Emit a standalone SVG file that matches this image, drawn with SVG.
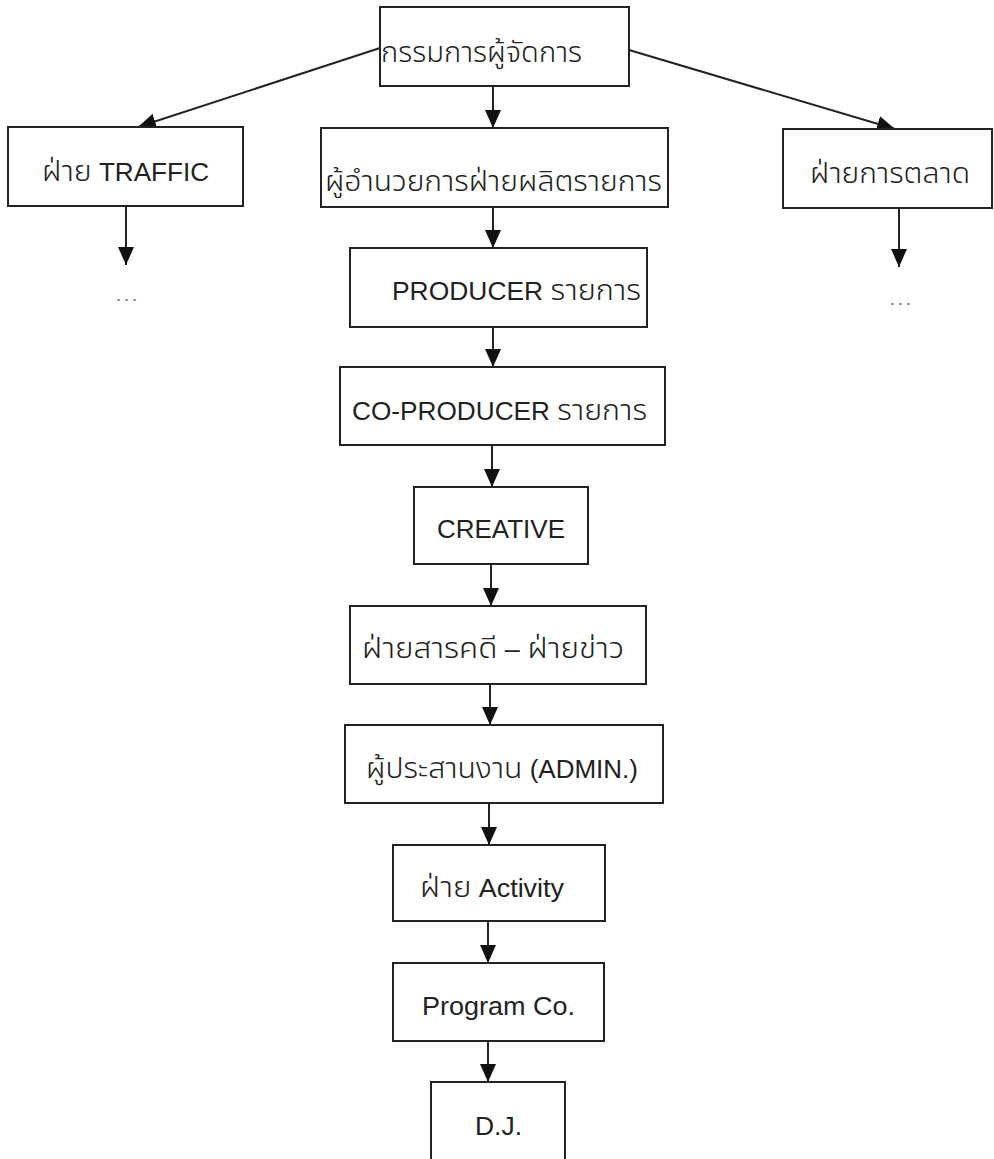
<svg xmlns="http://www.w3.org/2000/svg" width="994" height="1159" viewBox="0 0 994 1159">
<defs>
<marker id="ah" markerUnits="userSpaceOnUse" markerWidth="18" markerHeight="16" refX="18" refY="8" orient="auto">
<path d="M0,0 L18,8 L0,16 z" fill="#111"/>
</marker>
<style>
.box{fill:#fff;stroke:#222;stroke-width:2}
.t{font-family:"Liberation Sans",Arial,sans-serif;font-size:25px;fill:#222}
.th{font-family:"Noto Sans Thai","Noto Sans","DejaVu Sans",sans-serif;font-size:29px;font-weight:300}
.c{stroke:#222;stroke-width:2;fill:none;marker-end:url(#ah)}
.dots{font-family:"Liberation Sans",sans-serif;font-size:18px;fill:#666;letter-spacing:3px}
</style>
</defs>
<rect width="994" height="1159" fill="#fff"/>
<g id="connectors">
<line class="c" x1="493" y1="86" x2="493" y2="128"/>
<line class="c" x1="493" y1="207" x2="493" y2="248"/>
<line class="c" x1="493" y1="327" x2="493" y2="367"/>
<line class="c" x1="492" y1="445" x2="492" y2="487"/>
<line class="c" x1="491" y1="564" x2="491" y2="606"/>
<line class="c" x1="490" y1="684" x2="490" y2="725"/>
<line class="c" x1="489" y1="803" x2="489" y2="845"/>
<line class="c" x1="488" y1="921" x2="488" y2="963"/>
<line class="c" x1="488" y1="1041" x2="488" y2="1082"/>
<line class="c" x1="126" y1="206" x2="126" y2="265"/>
<line class="c" x1="899" y1="208" x2="899" y2="267"/>
<line class="c" x1="380" y1="48" x2="138" y2="127"/>
<line class="c" x1="629" y1="50" x2="895" y2="129"/>
</g>
<g id="n-md">
<rect class="box" x="380" y="7" width="249" height="79"/>
<text class="t th" x="381" y="62" textLength="201" lengthAdjust="spacingAndGlyphs">กรรมการผู้จัดการ</text>
</g>
<g id="n-traffic">
<rect class="box" x="8" y="127" width="235" height="79"/>
<text class="t" x="42" y="181" textLength="167" lengthAdjust="spacingAndGlyphs"><tspan class="th">ฝ่าย</tspan> TRAFFIC</text>
<text class="dots" x="116" y="301">...</text>
</g>
<g id="n-director">
<rect class="box" x="321" y="128" width="347" height="79"/>
<text class="t th" x="325" y="191" textLength="337" lengthAdjust="spacingAndGlyphs">ผู้อำนวยการฝ่ายผลิตรายการ</text>
</g>
<g id="n-marketing">
<rect class="box" x="783" y="129" width="209" height="79"/>
<text class="t th" x="810" y="183" textLength="160" lengthAdjust="spacingAndGlyphs">ฝ่ายการตลาด</text>
<text class="dots" x="890" y="305">...</text>
</g>
<g id="n-producer">
<rect class="box" x="350" y="248" width="297" height="79"/>
<text class="t" x="392" y="300" textLength="249" lengthAdjust="spacingAndGlyphs">PRODUCER <tspan class="th">รายการ</tspan></text>
</g>
<g id="n-coproducer">
<rect class="box" x="340" y="367" width="325" height="78"/>
<text class="t" x="352" y="420" textLength="295" lengthAdjust="spacingAndGlyphs">CO-PRODUCER <tspan class="th">รายการ</tspan></text>
</g>
<g id="n-creative">
<rect class="box" x="414" y="487" width="174" height="77"/>
<text class="t" x="437" y="538" textLength="128" lengthAdjust="spacingAndGlyphs">CREATIVE</text>
</g>
<g id="n-documentary">
<rect class="box" x="350" y="606" width="296" height="78"/>
<text class="t" x="362" y="658" textLength="262" lengthAdjust="spacingAndGlyphs"><tspan class="th">ฝ่ายสารคดี</tspan> – <tspan class="th">ฝ่ายข่าว</tspan></text>
</g>
<g id="n-admin">
<rect class="box" x="345" y="725" width="318" height="78"/>
<text class="t" x="366" y="778" textLength="272" lengthAdjust="spacingAndGlyphs"><tspan class="th">ผู้ประสานงาน</tspan> (ADMIN.)</text>
</g>
<g id="n-activity">
<rect class="box" x="393" y="845" width="212" height="76"/>
<text class="t" x="420" y="897" textLength="144" lengthAdjust="spacingAndGlyphs"><tspan class="th">ฝ่าย</tspan> Activity</text>
</g>
<g id="n-program">
<rect class="box" x="393" y="963" width="211" height="78"/>
<text class="t" x="422" y="1015" textLength="153" lengthAdjust="spacingAndGlyphs">Program Co.</text>
</g>
<g id="n-dj">
<rect class="box" x="431" y="1082" width="134" height="90"/>
<text class="t" x="475" y="1135" textLength="47" lengthAdjust="spacingAndGlyphs">D.J.</text>
</g>
</svg>
